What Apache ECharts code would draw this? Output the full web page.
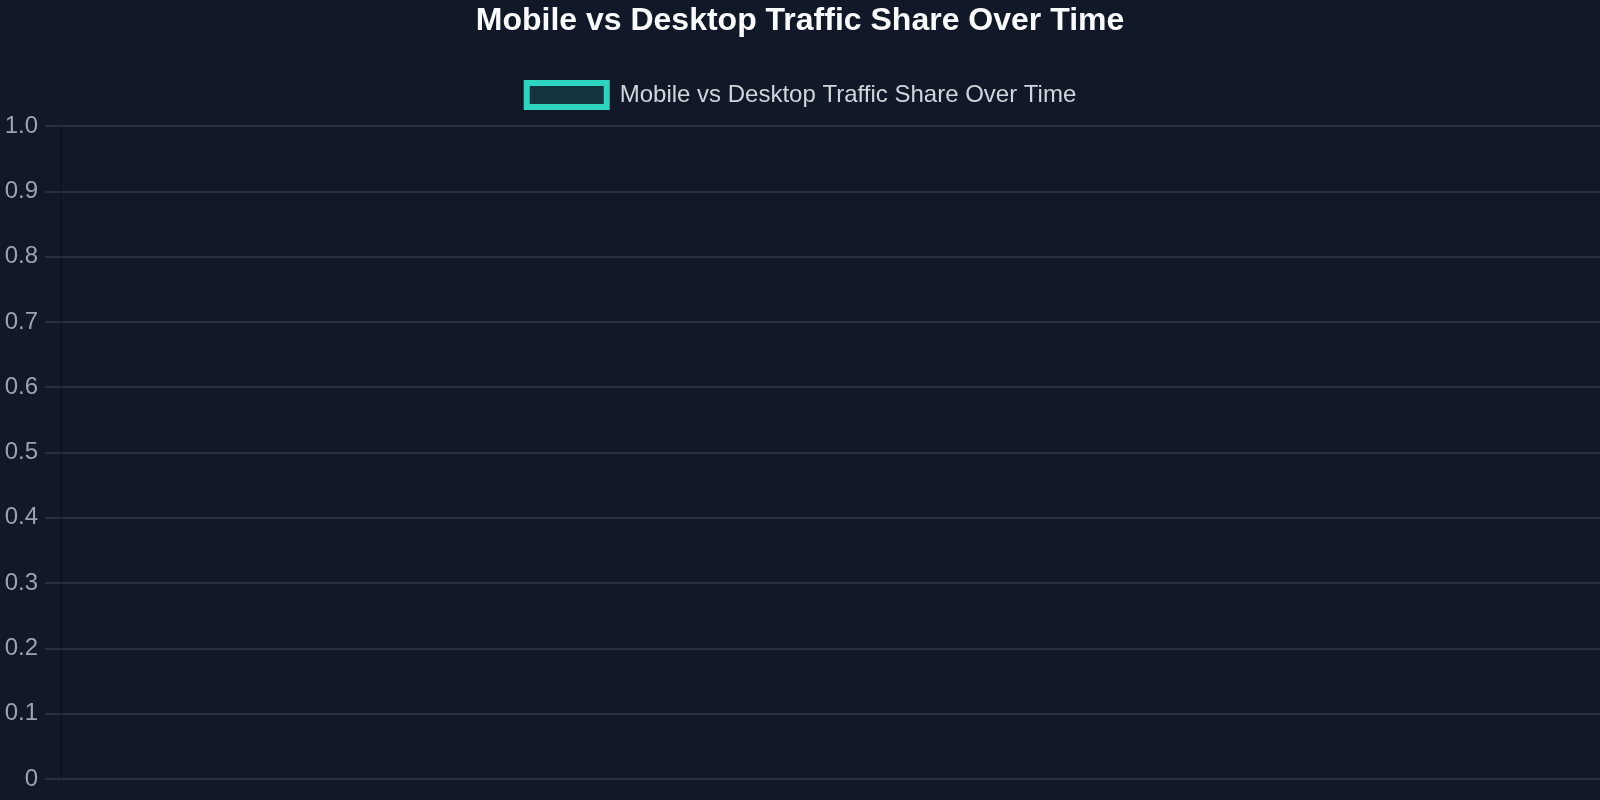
<!DOCTYPE html>
<html>
<head>
<meta charset="utf-8">
<script src="https://cdn.jsdelivr.net/npm/echarts@6/dist/echarts.min.js"></script>
<style>
html,body{margin:0;padding:0;background:#111827;}
#chart{width:1600px;height:800px;}
</style>
</head>
<body>
<div id="chart"></div>
<script>
const titleText = 'Mobile vs Desktop Traffic Share Over Time';
const seriesName = 'Mobile vs Desktop Traffic Share Over Time';
const categories = [];
const shareValues = [];
const yTicks = [0, 0.1, 0.2, 0.3, 0.4, 0.5, 0.6, 0.7, 0.8, 0.9, 1.0];

const chart = echarts.init(document.getElementById('chart'));
chart.setOption({
  backgroundColor: '#111827',
  textStyle: { fontFamily: 'Liberation Sans, Arial, sans-serif' },
  title: {
    text: titleText,
    left: 'center',
    top: 0,
    textStyle: { color: '#f9fafb', fontSize: 32, fontWeight: 'bold', fontFamily: 'Liberation Sans, Arial, sans-serif' }
  },
  legend: {
    top: 75,
    left: 'center',
    itemWidth: 80,
    itemHeight: 24,
    itemGap: 10,
    icon: 'rect',
    itemStyle: { color: 'rgba(45,212,191,0.15)', borderColor: '#2dd4bf', borderWidth: 6 },
    textStyle: { color: '#d1d5db', fontSize: 24, padding: [0, 0, 0, 8], fontFamily: 'Liberation Sans, Arial, sans-serif' },
    data: [seriesName]
  },
  grid: { left: 61, right: 0, top: 126, bottom: 21, containLabel: false },
  xAxis: {
    type: 'category',
    data: categories,
    axisLine: { show: false },
    axisTick: { show: false },
    axisLabel: { color: '#9ca3af', fontSize: 24 },
    splitLine: { show: false }
  },
  yAxis: {
    type: 'value',
    min: yTicks[0],
    max: yTicks[yTicks.length - 1],
    interval: 0.1,
    axisLine: { show: true, lineStyle: { color: '#0e1420', width: 1.5 } },
    axisTick: { show: true, length: 16, lineStyle: { color: '#283040', width: 2 } },
    axisLabel: {
      color: '#9ca3af', fontSize: 24, margin: 23,
      formatter: v => (v === 0 ? '0' : v.toFixed(1)),
      fontFamily: 'Liberation Sans, Arial, sans-serif'
    },
    splitLine: { show: true, lineStyle: { color: '#283040', width: 2 } }
  },
  series: [{
    name: seriesName,
    type: 'bar',
    data: shareValues,
    itemStyle: { color: 'rgba(45,212,191,0.15)', borderColor: '#2dd4bf', borderWidth: 6 }
  }]
});
</script>
</body>
</html>
